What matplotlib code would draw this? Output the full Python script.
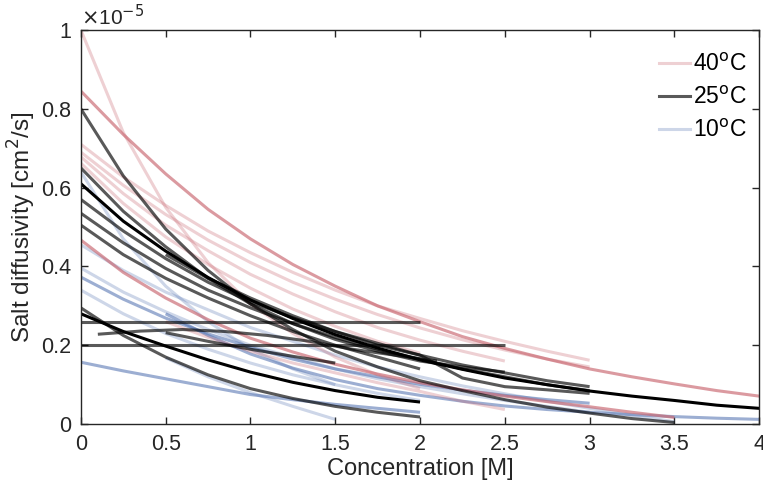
import numpy as np
import matplotlib
matplotlib.use("Agg")
import matplotlib.pyplot as plt

plt.rcParams['font.family'] = ['Liberation Sans', 'DejaVu Sans']

# every curve is sampled each 0.25 M starting at its own concentration
step = 0.25

# 40 C curves (salt diffusivity in 1e-5 cm2/s)
hot_start = [0, 0, 0, 0, 0, 0, 0.5, 0]
hot_vals = [
    [1.0, 0.74, 0.55, 0.41, 0.305, 0.23, 0.17, 0.125, 0.09],
    [0.845, 0.735, 0.635, 0.545, 0.47, 0.405, 0.35, 0.30, 0.26, 0.222, 0.192, 0.165, 0.14, 0.12, 0.102, 0.085, 0.071],
    [0.71, 0.627, 0.555, 0.49, 0.435, 0.385, 0.34, 0.30, 0.268, 0.237, 0.21, 0.185, 0.162],
    [0.69, 0.606, 0.532, 0.467, 0.41, 0.36, 0.317, 0.278, 0.244, 0.214, 0.188, 0.165, 0.145],
    [0.678, 0.585, 0.505, 0.44, 0.38, 0.33, 0.285, 0.245, 0.213, 0.185, 0.16],
    [0.662, 0.56, 0.475, 0.405, 0.345, 0.292, 0.248, 0.21, 0.18],
    [0.26, 0.22, 0.185, 0.155, 0.13, 0.105, 0.083, 0.058, 0.037],
    [0.467, 0.385, 0.32, 0.265, 0.218, 0.183, 0.152, 0.127, 0.105, 0.087, 0.071, 0.057, 0.044, 0.03, 0.017],
]
hot_strong = [False, True, False, False, False, False, False, True]

# 10 C curves
cold_start = [0, 0.5, 0, 0, 0, 0, 0.5, 0]
cold_vals = [
    [0.64, 0.47, 0.35, 0.26, 0.19, 0.14, 0.10],
    [0.168, 0.12, 0.08, 0.045, 0.012],
    [0.455, 0.39, 0.335, 0.29, 0.245, 0.21, 0.175, 0.145, 0.12, 0.097, 0.077, 0.058, 0.04, 0.022, 0.006],
    [0.396, 0.335, 0.285, 0.24, 0.20, 0.17, 0.14, 0.115, 0.095, 0.077, 0.06, 0.045, 0.03],
    [0.34, 0.28, 0.23, 0.19, 0.155, 0.125, 0.10, 0.078, 0.06],
    [0.373, 0.317, 0.269, 0.229, 0.195, 0.165, 0.14, 0.12, 0.101, 0.086, 0.073, 0.062, 0.053],
    [0.28, 0.225, 0.178, 0.142, 0.113, 0.09, 0.073, 0.058, 0.046, 0.037, 0.03, 0.024, 0.019, 0.015, 0.012],
    [0.157, 0.135, 0.115, 0.095, 0.075, 0.062, 0.05, 0.04, 0.03],
]
cold_strong = [False, False, False, False, False, True, True, True]

# 25 C curves
mid_start = [0, 0, 0, 0, 0, 0, 0.5, 0.5, 0.1, 0, 0]
mid_vals = [
    [0.80, 0.63, 0.495, 0.39, 0.305, 0.24, 0.185, 0.145, 0.11, 0.085, 0.062, 0.043, 0.028, 0.014, 0.004],
    [0.61, 0.515, 0.439, 0.372, 0.315, 0.268, 0.227, 0.193, 0.163, 0.139, 0.117, 0.10, 0.084, 0.071, 0.06, 0.048, 0.04],
    [0.65, 0.54, 0.45, 0.37, 0.305, 0.255, 0.215, 0.185, 0.16, 0.145, 0.132],
    [0.57, 0.49, 0.42, 0.36, 0.31, 0.27, 0.235, 0.20, 0.175, 0.15, 0.13, 0.11, 0.095],
    [0.535, 0.46, 0.395, 0.34, 0.295, 0.255, 0.22, 0.19, 0.165, 0.14, 0.12, 0.10, 0.085],
    [0.505, 0.43, 0.37, 0.32, 0.275, 0.235, 0.20, 0.17, 0.14],
    [0.43, 0.37, 0.32, 0.275, 0.235, 0.205, 0.175, 0.117, 0.095, 0.087, 0.078],
    [0.232, 0.21, 0.19, 0.172, 0.155],
    [0.228, 0.236, 0.24, 0.235, 0.225, 0.21, 0.19, 0.175, 0.16],
    [0.28, 0.235, 0.198, 0.163, 0.132, 0.106, 0.085, 0.068, 0.056],
    [0.295, 0.225, 0.17, 0.125, 0.09, 0.065, 0.045, 0.03, 0.018],
]
mid_black = [False, True, False, False, False, False, False, False, False, True, False]

# constant-diffusivity fits (level, last concentration)
flat_levels = [0.26, 0.20]
flat_ends = [2.0, 2.5]

temps = ['40$^{\\mathrm{o}}$C', '25$^{\\mathrm{o}}$C', '10$^{\\mathrm{o}}$C']

red = '#c8646e'
blue = '#5a78b4'

fig = plt.figure(figsize=(7.63, 4.92), dpi=100)
ax = fig.add_axes([0.106, 0.138, 0.889, 0.801])


def curve_x(s, v):
    return s + step * np.arange(len(v))


for s, v, strong in zip(cold_start, cold_vals, cold_strong):
    ax.plot(curve_x(s, v), v, color=blue, alpha=0.6 if strong else 0.3, lw=2.2,
            solid_capstyle='butt', solid_joinstyle='round')
for s, v, strong in zip(hot_start, hot_vals, hot_strong):
    ax.plot(curve_x(s, v), v, color=red, alpha=0.65 if strong else 0.3, lw=2.2,
            solid_capstyle='butt', solid_joinstyle='round')
ax.hlines(flat_levels, 0, flat_ends, color='k', alpha=0.65, lw=2.2)
for s, v, blk in zip(mid_start, mid_vals, mid_black):
    ax.plot(curve_x(s, v), v, color='k', alpha=1.0 if blk else 0.65, lw=2.2,
            solid_capstyle='butt', solid_joinstyle='round')

# legend handles
h1, = ax.plot([], [], color=red, alpha=0.3, lw=2.2)
h2, = ax.plot([], [], color='k', alpha=0.65, lw=2.2)
h3, = ax.plot([], [], color=blue, alpha=0.3, lw=2.2)
ax.legend([h1, h2, h3], temps, loc='upper right', frameon=False, fontsize=16.5,
          handlelength=1.35, handletextpad=0.15, labelspacing=0.45,
          bbox_to_anchor=(1.012, 0.995))

ax.set_xlim(0, 4)
ax.set_ylim(0, 1)
ax.set_xticks(np.arange(0, 4.01, 0.5))
ax.set_xticklabels(['0', '0.5', '1', '1.5', '2', '2.5', '3', '3.5', '4'])
ax.set_yticks(np.arange(0, 1.01, 0.2))
ax.set_yticklabels(['0', '0.2', '0.4', '0.6', '0.8', '1'])
ax.tick_params(direction='in', length=5, width=1, top=True, right=True,
               labelsize=15.5, colors='#262626', pad=7)
for sp in ax.spines.values():
    sp.set_color('#262626')
    sp.set_linewidth(1)

ax.set_xlabel('Concentration [M]', fontsize=17, color='#262626', labelpad=2)
ax.set_ylabel('Salt diffusivity [cm$^2$/s]', fontsize=17.5, color='#262626', labelpad=2)
ax.text(0.0, 1.003, '$\\times$10$^{-5}$', transform=ax.transAxes, fontsize=15,
        color='#262626', ha='left', va='bottom')

fig.savefig('out.png', dpi=100)
